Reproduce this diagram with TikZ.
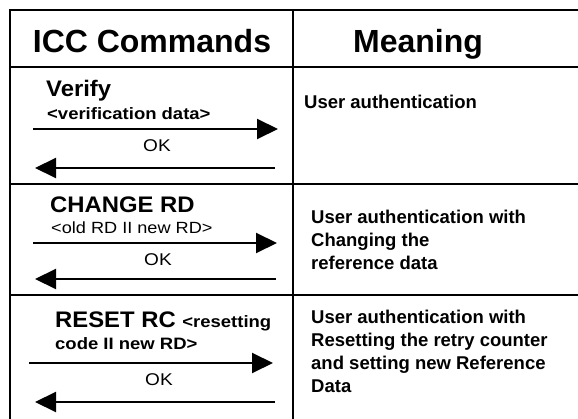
\documentclass[tikz,border=0pt]{standalone}
\usepackage{fontspec}
\setmainfont{Liberation Sans}
% slightly widened faces for the command column
\newfontfamily\cmdfont[FakeStretch=1.06]{Liberation Sans}
\newfontfamily\argfont[FakeStretch=1.12]{Liberation Sans}
\usetikzlibrary{arrows.meta}
\begin{document}
\begin{tikzpicture}[x=1pt,y=-1pt,
  rule/.style={line width=2.2pt},
  msg/.style={line width=2pt,-{Triangle[length=21pt,width=20pt]}},
  headtxt/.style={font=\fontsize{32}{38}\selectfont\bfseries,inner sep=0pt,anchor=base},
  cmdtxt/.style={font=\cmdfont\fontsize{22.5}{26}\selectfont\bfseries,inner sep=0pt,anchor=base west},
  argtxt/.style={font=\argfont\fontsize{16.5}{23}\selectfont\bfseries,inner sep=0pt,anchor=base west},
  argplain/.style={font=\argfont\fontsize{16.2}{23}\selectfont,inner sep=0pt,anchor=base west},
  oktxt/.style={font=\argfont\fontsize{17}{22}\selectfont,inner sep=0pt,anchor=base},
  meantxt/.style={font=\fontsize{18.5}{23}\selectfont\bfseries,inner sep=0pt,anchor=north west,align=left}
]
\clip (0,0) rectangle (578,419);
\fill[white] (0,0) rectangle (578,419);

% table frame and grid
\draw[rule] (10,430) -- (10,10) -- (590,10);
\draw[rule] (293,10) -- (293,430);
\draw[rule] (10,67) -- (590,67);
\draw[rule] (10,184) -- (590,184);
\draw[rule] (10,295) -- (590,295);

% header
\node[headtxt] (hcmd) at (152,53) {ICC Commands};
\node[headtxt] (hmean) at (418,53) {Meaning};

% row 1: VERIFY
\node[cmdtxt] (verify) at (46,97) {Verify};
\node[argtxt] (verarg) at (47,120) {<verification data>};
\coordinate (v1a) at (33,129);
\coordinate (v1b) at (278,129);
\draw[msg] (v1a) -- (v1b);
\node[oktxt] (ok1) at (157,152) {OK};
\coordinate (v2a) at (275,168);
\coordinate (v2b) at (35,168);
\draw[msg] (v2a) -- (v2b);
\node[meantxt] (m1) at (304,94.5) {User authentication};

% row 2: CHANGE RD
\node[cmdtxt] (change) at (50,213) {CHANGE RD};
\node[argplain] (chgarg) at (51,234) {<old RD II new RD>};
\coordinate (c1a) at (33,243);
\coordinate (c1b) at (277,243);
\draw[msg] (c1a) -- (c1b);
\node[oktxt] (ok2) at (158,266) {OK};
\coordinate (c2a) at (276,279);
\coordinate (c2b) at (35,279);
\draw[msg] (c2a) -- (c2b);
\node[meantxt] (m2) at (311,209.5) {User authentication with\\Changing the\\reference data};

% row 3: RESET RC
\node[cmdtxt] (reset) at (55,327) {RESET RC \argfont\fontsize{16.5}{23}\selectfont\textless resetting};
\node[argtxt] (resarg) at (55,350) {code II new RD>};
\coordinate (r1a) at (29,363);
\coordinate (r1b) at (273,363);
\draw[msg] (r1a) -- (r1b);
\node[oktxt] (ok3) at (159,385) {OK};
\coordinate (r2a) at (275,402);
\coordinate (r2b) at (35,402);
\draw[msg] (r2a) -- (r2b);
\node[meantxt] (m3) at (311,309.5) {User authentication with\\Resetting the retry counter\\and setting new Reference\\Data};
\end{tikzpicture}
\end{document}
